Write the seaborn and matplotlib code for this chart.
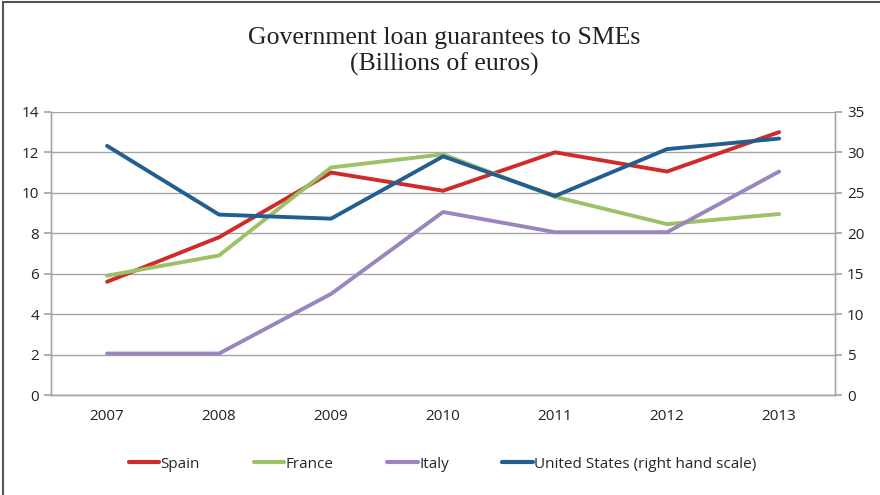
import numpy as np
import pandas as pd
import matplotlib.pyplot as plt
import seaborn as sns
from matplotlib.patches import Rectangle

years = ['2007', '2008', '2009', '2010', '2011', '2012', '2013']
spain = [5.6, 7.8, 11.0, 10.1, 12.0, 11.05, 13.0]
france = [5.9, 6.9, 11.25, 11.9, 9.8, 8.45, 8.95]
italy = [2.05, 2.05, 5.0, 9.05, 8.05, 8.05, 11.05]
united_states = [30.8, 22.3, 21.8, 29.5, 24.6, 30.4, 31.7]

colors = {'Spain': '#CF2B2A', 'France': '#9DC166', 'Italy': '#9A86BF',
          'United States (right hand scale)': '#235E90'}

sns.set_theme(style='white')
plt.rcParams['font.family'] = ['Open Sans', 'DejaVu Sans']

df = pd.DataFrame({'pos': np.arange(len(years)), 'Spain': spain,
                   'France': france, 'Italy': italy})
long_df = df.melt(id_vars='pos', var_name='country', value_name='value')
us_df = pd.DataFrame({'pos': np.arange(len(years)), 'value': united_states})

fig = plt.figure(figsize=(8.8, 4.95), dpi=100)
ax = fig.add_axes([0.058, 0.202, 0.891, 0.572])
ax2 = ax.twinx()

sns.lineplot(data=long_df, x='pos', y='value', hue='country',
             palette=colors, linewidth=2.8, ax=ax, legend=False)
sns.lineplot(data=us_df, x='pos', y='value', color=colors['United States (right hand scale)'],
             linewidth=2.8, ax=ax2)

grid_c = '#A6A6A6'
ax.set_xlim(-0.5, len(years) - 0.5)
ax.set_ylim(0, 14)
ax.set_yticks(range(0, 15, 2))
ax2.set_ylim(0, 35)
ax2.set_yticks(range(0, 36, 5))
ax.set_xticks(range(len(years)))
ax.set_xticklabels(years)
ax.set_xticks(np.arange(-0.5, len(years), 1), minor=True)
ax.yaxis.grid(True, color=grid_c, linewidth=1)
ax.set_axisbelow(True)
ax.tick_params(axis='x', which='major', length=0, pad=10, labelsize=11, colors='#222222')
ax.tick_params(axis='x', which='minor', length=5, color=grid_c, direction='out')
ax.tick_params(axis='y', length=5, color=grid_c, direction='out', labelsize=11,
               colors='#222222', left=True)
ax2.tick_params(axis='y', length=5, color=grid_c, direction='out', labelsize=11,
                colors='#222222', right=True)
for a in (ax, ax2):
    a.set_xlabel('')
    a.set_ylabel('')
    a.spines['top'].set_visible(False)
    for s in ('left', 'right', 'bottom'):
        a.spines[s].set_color(grid_c)
        a.spines[s].set_linewidth(1)

handles = [plt.Line2D([], [], color=c, linewidth=3) for c in colors.values()]
fig.legend(handles, list(colors.keys()), loc='center', bbox_to_anchor=(0.503, 0.062),
           ncol=4, frameon=False, fontsize=11, handlelength=2.0, handletextpad=0.1,
           columnspacing=3.5)

fig.text(0.505, 0.896, 'Government loan guarantees to SMEs\n(Billions of euros)',
         ha='center', va='center', fontsize=18.5, family='Liberation Serif',
         linespacing=1.2, color='#222222')

fig.patches.append(Rectangle((0.003, -0.05), 2.0, 1.045, transform=fig.transFigure,
                             fill=False, edgecolor='#555555', linewidth=1.5))

fig.savefig('out.png', dpi=100)
